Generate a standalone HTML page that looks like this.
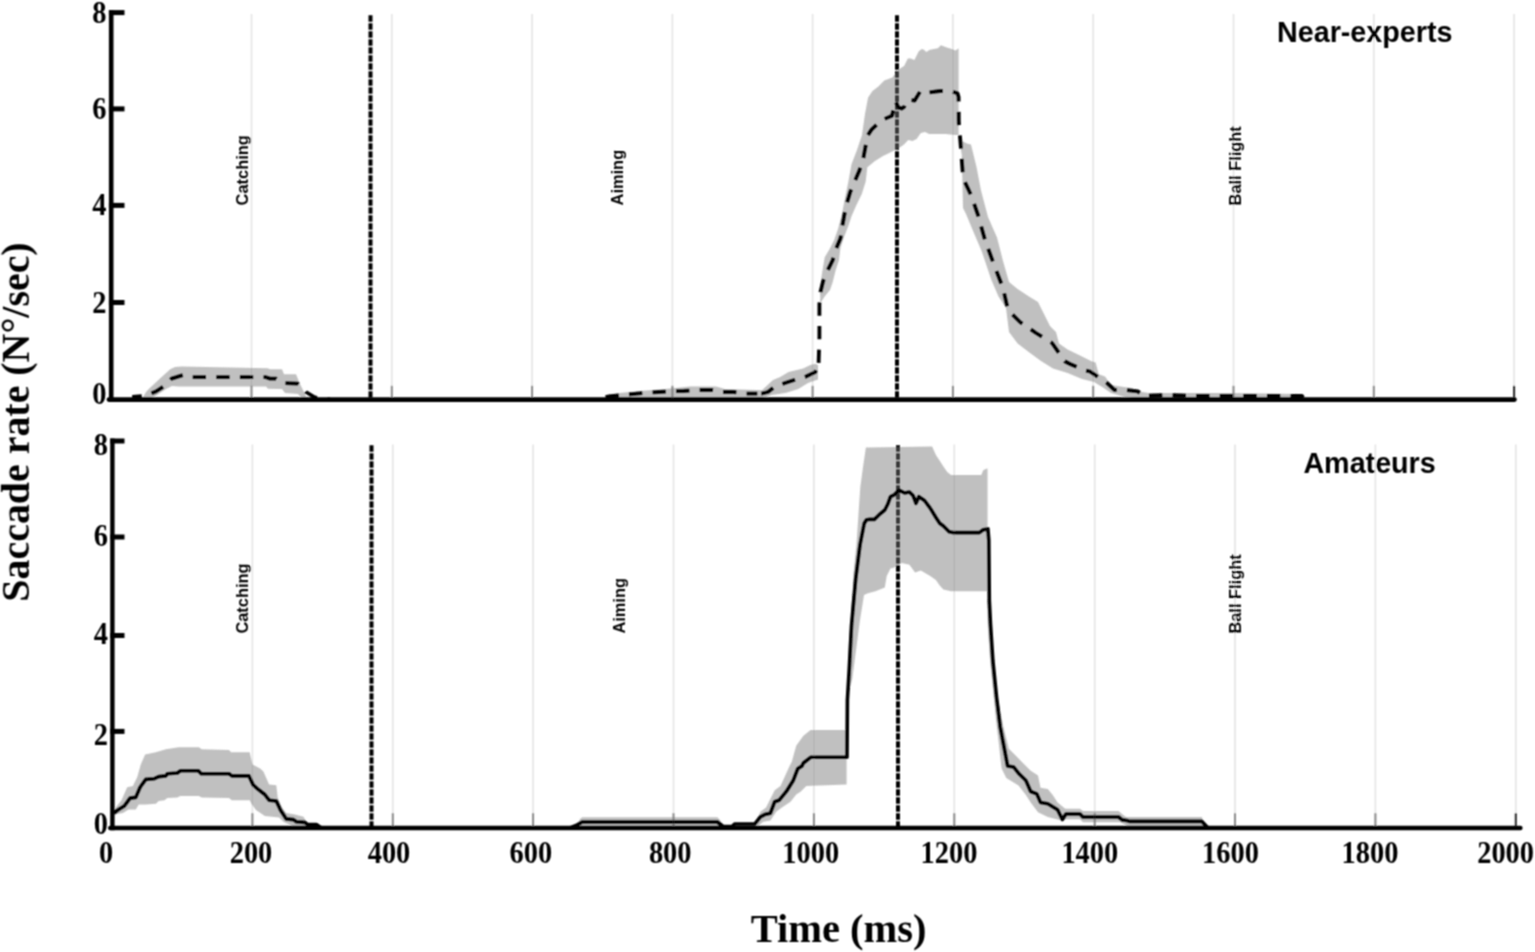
<!DOCTYPE html>
<html><head><meta charset="utf-8"><title>Saccade rate</title><style>
html,body{margin:0;padding:0;background:#fff;}
body{width:1535px;height:952px;overflow:hidden;}
svg{display:block;}
.tk{font-family:"Liberation Serif","Times New Roman",serif;font-weight:bold;font-size:29px;fill:#000;}
.ax{font-family:"Liberation Serif","Times New Roman",serif;font-weight:bold;font-size:39.5px;fill:#000;}
.ph{font-family:"Liberation Sans",Arial,sans-serif;font-weight:bold;font-size:16.4px;fill:#000;}
.ti{font-family:"Liberation Sans",Arial,sans-serif;font-weight:bold;font-size:28.7px;fill:#000;}
</style></head><body>
<svg width="1535" height="952" viewBox="0 0 1535 952">
<defs><filter id="soft" filterUnits="userSpaceOnUse" x="0" y="0" width="1535" height="952"><feConvolveMatrix order="3" kernelMatrix="1 2 1 2 4 2 1 2 1" divisor="16" edgeMode="duplicate"/></filter></defs>
<rect width="1535" height="952" fill="#fff"/>
<g filter="url(#soft)">
<line x1="370.5" y1="14.5" x2="370.5" y2="397.6" stroke="#000" stroke-width="4" stroke-dasharray="6.5 1.5" stroke-dashoffset="-0.8"/>
<line x1="897.0" y1="14.5" x2="897.0" y2="397.6" stroke="#000" stroke-width="4" stroke-dasharray="6.5 1.5" stroke-dashoffset="-0.8"/>
<line x1="251.5" y1="14.0" x2="251.5" y2="397.6" stroke="#e4e4e4" stroke-width="1.6"/>
<line x1="251.5" y1="385.8" x2="251.5" y2="397.6" stroke="#8a8a8a" stroke-width="2"/>
<line x1="391.8" y1="14.0" x2="391.8" y2="397.6" stroke="#e4e4e4" stroke-width="1.6"/>
<line x1="391.8" y1="385.8" x2="391.8" y2="397.6" stroke="#8a8a8a" stroke-width="2"/>
<line x1="532.1" y1="14.0" x2="532.1" y2="397.6" stroke="#e4e4e4" stroke-width="1.6"/>
<line x1="532.1" y1="385.8" x2="532.1" y2="397.6" stroke="#8a8a8a" stroke-width="2"/>
<line x1="672.4" y1="14.0" x2="672.4" y2="397.6" stroke="#e4e4e4" stroke-width="1.6"/>
<line x1="672.4" y1="385.8" x2="672.4" y2="397.6" stroke="#8a8a8a" stroke-width="2"/>
<line x1="812.6" y1="14.0" x2="812.6" y2="397.6" stroke="#e4e4e4" stroke-width="1.6"/>
<line x1="812.6" y1="385.8" x2="812.6" y2="397.6" stroke="#8a8a8a" stroke-width="2"/>
<line x1="952.9" y1="14.0" x2="952.9" y2="397.6" stroke="#e4e4e4" stroke-width="1.6"/>
<line x1="952.9" y1="385.8" x2="952.9" y2="397.6" stroke="#8a8a8a" stroke-width="2"/>
<line x1="1093.2" y1="14.0" x2="1093.2" y2="397.6" stroke="#e4e4e4" stroke-width="1.6"/>
<line x1="1093.2" y1="385.8" x2="1093.2" y2="397.6" stroke="#8a8a8a" stroke-width="2"/>
<line x1="1233.5" y1="14.0" x2="1233.5" y2="397.6" stroke="#e4e4e4" stroke-width="1.6"/>
<line x1="1233.5" y1="385.8" x2="1233.5" y2="397.6" stroke="#8a8a8a" stroke-width="2"/>
<line x1="1373.8" y1="14.0" x2="1373.8" y2="397.6" stroke="#e4e4e4" stroke-width="1.6"/>
<line x1="1373.8" y1="385.8" x2="1373.8" y2="397.6" stroke="#8a8a8a" stroke-width="2"/>
<line x1="1514.1" y1="14.0" x2="1514.1" y2="397.6" stroke="#e4e4e4" stroke-width="1.6"/>
<line x1="1514.1" y1="385.8" x2="1514.1" y2="397.6" stroke="#262626" stroke-width="2"/>
<line x1="371.5" y1="444.5" x2="371.5" y2="826.0" stroke="#000" stroke-width="4" stroke-dasharray="6.5 1.5" stroke-dashoffset="-0.8"/>
<line x1="898.0" y1="444.5" x2="898.0" y2="826.0" stroke="#000" stroke-width="4" stroke-dasharray="6.5 1.5" stroke-dashoffset="-0.8"/>
<line x1="252.4" y1="444.5" x2="252.4" y2="826.0" stroke="#e4e4e4" stroke-width="1.6"/>
<line x1="252.4" y1="813.2" x2="252.4" y2="826.0" stroke="#8a8a8a" stroke-width="2"/>
<line x1="392.8" y1="444.5" x2="392.8" y2="826.0" stroke="#e4e4e4" stroke-width="1.6"/>
<line x1="392.8" y1="813.2" x2="392.8" y2="826.0" stroke="#8a8a8a" stroke-width="2"/>
<line x1="533.1" y1="444.5" x2="533.1" y2="826.0" stroke="#e4e4e4" stroke-width="1.6"/>
<line x1="533.1" y1="813.2" x2="533.1" y2="826.0" stroke="#8a8a8a" stroke-width="2"/>
<line x1="673.5" y1="444.5" x2="673.5" y2="826.0" stroke="#e4e4e4" stroke-width="1.6"/>
<line x1="673.5" y1="813.2" x2="673.5" y2="826.0" stroke="#8a8a8a" stroke-width="2"/>
<line x1="813.9" y1="444.5" x2="813.9" y2="826.0" stroke="#e4e4e4" stroke-width="1.6"/>
<line x1="813.9" y1="813.2" x2="813.9" y2="826.0" stroke="#8a8a8a" stroke-width="2"/>
<line x1="954.3" y1="444.5" x2="954.3" y2="826.0" stroke="#e4e4e4" stroke-width="1.6"/>
<line x1="954.3" y1="813.2" x2="954.3" y2="826.0" stroke="#8a8a8a" stroke-width="2"/>
<line x1="1094.7" y1="444.5" x2="1094.7" y2="826.0" stroke="#e4e4e4" stroke-width="1.6"/>
<line x1="1094.7" y1="813.2" x2="1094.7" y2="826.0" stroke="#8a8a8a" stroke-width="2"/>
<line x1="1235.0" y1="444.5" x2="1235.0" y2="826.0" stroke="#e4e4e4" stroke-width="1.6"/>
<line x1="1235.0" y1="813.2" x2="1235.0" y2="826.0" stroke="#8a8a8a" stroke-width="2"/>
<line x1="1375.4" y1="444.5" x2="1375.4" y2="826.0" stroke="#e4e4e4" stroke-width="1.6"/>
<line x1="1375.4" y1="813.2" x2="1375.4" y2="826.0" stroke="#8a8a8a" stroke-width="2"/>
<line x1="1515.8" y1="444.5" x2="1515.8" y2="826.0" stroke="#e4e4e4" stroke-width="1.6"/>
<line x1="1515.8" y1="813.2" x2="1515.8" y2="826.0" stroke="#262626" stroke-width="2"/>
<polygon points="142.0,399.0 146.0,392.0 149.0,388.7 160.0,378.5 170.2,369.3 175.0,367.0 181.7,366.5 267.7,368.2 270.0,369.3 282.0,369.3 284.0,374.3 296.0,374.3 300.0,384.0 306.4,397.0 308.0,399.0 303.0,399.0 298.0,394.0 292.0,393.5 285.0,393.0 282.0,389.0 268.0,388.7 266.0,386.5 185.0,386.5 178.0,386.5 172.0,386.0 166.0,389.0 160.0,393.0 154.0,397.0 150.0,399.0" fill="#777777" fill-opacity="0.463"/>
<polygon points="604.0,399.0 610.0,394.0 640.0,391.0 665.0,389.0 690.0,386.6 716.0,386.6 725.0,389.0 757.0,390.0 762.0,390.2 773.0,380.0 780.2,377.0 788.6,372.1 795.9,370.3 803.1,368.5 810.4,364.9 815.2,363.7 818.0,364.9 818.0,379.4 808.0,383.0 798.3,389.0 786.2,392.7 779.0,393.9 771.7,395.0 765.0,397.5 760.0,398.5 700.0,398.0 640.0,398.5 606.0,399.0" fill="#777777" fill-opacity="0.463"/>
<polygon points="819.8,301.0 820.3,299.0 820.0,291.9 821.6,276.1 824.7,257.2 829.5,249.3 834.2,239.9 838.1,228.8 842.1,213.1 845.2,197.3 848.4,181.5 851.5,164.2 857.0,150.0 862.0,135.0 865.0,114.0 868.1,97.5 872.5,90.9 878.4,86.5 884.3,80.6 892.4,77.6 893.8,75.4 899.7,68.8 904.1,65.9 907.8,58.5 910.7,58.5 914.4,60.0 918.8,51.2 921.8,49.0 924.0,49.7 926.2,51.9 929.9,49.7 937.9,48.2 940.9,45.3 946.8,47.5 951.9,49.0 955.6,50.4 958.6,48.2 958.6,139.0 962.0,141.0 967.0,143.4 971.0,144.5 976.5,167.0 981.0,190.6 988.0,217.0 997.0,237.6 1003.0,261.0 1009.0,282.0 1017.6,289.0 1029.0,296.5 1038.0,302.0 1044.0,314.0 1050.0,326.0 1056.0,332.0 1059.0,343.5 1067.6,349.4 1079.0,355.0 1091.0,361.0 1095.6,362.5 1098.8,374.2 1105.0,376.6 1111.0,385.0 1133.0,388.3 1139.4,391.4 1148.8,393.0 1227.0,393.0 1283.0,393.7 1300.0,394.0 1305.0,399.0 1140.0,399.0 1125.0,397.0 1111.0,393.0 1103.0,387.6 1094.0,382.0 1082.0,379.0 1067.6,373.0 1053.0,368.5 1041.0,361.0 1029.4,352.4 1017.6,343.5 1009.0,332.0 1006.0,308.0 998.5,296.5 991.0,279.0 982.0,252.0 973.5,232.0 966.0,214.0 963.0,208.0 961.8,155.0 958.6,135.0 954.4,135.0 946.0,134.0 937.6,134.0 929.2,134.0 925.0,132.0 920.8,133.0 916.6,139.0 912.4,141.0 908.2,140.0 904.0,144.5 899.8,147.6 895.6,149.7 889.3,152.9 883.0,156.0 874.6,161.3 868.3,166.5 867.3,167.3 865.7,181.5 861.8,194.1 856.3,205.2 851.5,216.2 848.4,225.7 843.6,238.3 840.5,247.7 838.9,260.4 835.8,269.8 832.6,282.4 830.0,290.0 825.0,296.0 821.0,302.0" fill="#777777" fill-opacity="0.463"/>
<polygon points="114.3,812.0 115.7,807.4 121.5,800.2 127.2,787.3 132.9,785.9 137.2,777.3 140.8,764.4 145.1,754.4 155.9,752.2 165.9,749.3 178.8,747.2 198.9,747.2 201.7,749.3 229.0,750.1 231.1,752.2 249.7,752.2 252.6,764.4 260.5,768.7 263.4,771.6 269.1,784.5 276.3,785.2 277.7,797.4 282.0,807.4 286.3,813.1 294.9,814.6 303.5,816.7 306.4,821.7 310.0,827.0 295.0,827.0 289.2,824.6 283.4,821.7 279.1,817.4 264.8,816.0 260.5,813.1 256.2,810.3 251.9,804.5 249.7,800.2 231.8,800.2 229.0,798.1 201.7,797.4 198.9,795.9 180.2,795.9 177.4,797.4 167.3,798.1 164.5,800.2 158.7,801.0 155.9,803.8 145.8,804.5 138.7,804.5 135.8,809.5 128.6,809.5 122.9,813.1 114.3,814.6" fill="#777777" fill-opacity="0.463"/>
<polygon points="576.0,827.0 580.0,819.0 582.2,817.3 717.4,817.3 720.0,820.0 724.0,827.0" fill="#777777" fill-opacity="0.463"/>
<polygon points="755.0,824.0 760.4,811.8 766.1,807.5 774.7,790.3 780.5,786.0 789.0,767.3 791.9,761.6 796.2,745.8 803.4,735.8 810.6,730.1 846.6,730.1 846.6,784.5 806.3,786.0 800.5,791.7 796.2,794.6 790.5,801.7 781.9,807.5 776.2,811.8 770.4,820.4 763.3,821.8 758.0,826.0" fill="#777777" fill-opacity="0.463"/>
<polygon points="848.0,690.0 849.0,640.0 850.8,620.0 853.6,572.3 856.5,544.0 858.4,515.6 860.3,487.3 863.1,466.5 865.9,447.6 932.1,446.6 935.9,455.1 939.7,460.8 943.4,466.5 947.2,472.1 951.0,475.0 981.3,475.0 983.2,470.3 986.9,468.4 987.5,468.4 987.5,591.3 951.0,591.3 943.4,589.4 939.7,585.6 935.9,580.0 930.2,576.1 920.8,570.5 915.1,572.4 909.4,564.8 901.8,562.9 894.3,567.6 890.5,568.6 886.7,576.1 884.8,587.5 875.4,591.3 867.8,593.2 864.0,595.0 859.7,622.0 852.3,678.8 849.0,692.0" fill="#777777" fill-opacity="0.463"/>
<polygon points="988.0,600.0 990.5,610.0 992.0,640.0 994.0,670.0 998.0,700.0 1003.0,725.0 1008.8,748.8 1016.1,756.1 1023.4,763.4 1030.7,770.7 1038.0,775.6 1040.5,787.8 1047.8,789.0 1052.7,795.1 1057.6,802.4 1064.9,808.5 1066.0,808.8 1080.0,808.8 1083.0,811.1 1118.6,811.1 1122.0,814.0 1126.0,817.0 1201.9,817.0 1204.0,825.0 1205.0,827.0 1129.0,827.0 1126.0,825.2 1120.0,822.2 1083.0,822.2 1080.0,819.3 1066.0,819.3 1062.4,820.7 1057.6,819.5 1047.8,817.0 1038.0,812.2 1030.7,802.4 1025.9,795.1 1018.5,785.4 1006.3,778.0 1001.5,768.3 999.0,745.0 996.0,720.0 993.0,690.0 990.0,660.0 988.0,630.0 987.0,600.0" fill="#777777" fill-opacity="0.463"/>
<path d="M132.2 397.0 L145.0 396.0 L155.9 391.5 L164.5 385.8 L171.6 378.6 L183.1 375.0 L190.0 377.2 L266.0 377.2 L270.0 378.6 L276.0 378.6 L282.0 383.0 L297.8 383.7 L303.0 388.0 L306.0 392.0 L315.0 397.5 L330.0 399.5" fill="none" stroke="#000" stroke-width="3.8" stroke-dasharray="13.3 10.3" stroke-dashoffset="3.75" stroke-linejoin="round"/>
<path d="M598.0 399.5 L607.2 396.7 L636.9 393.6 L658.8 392.0 L671.3 391.3 L683.8 391.0 L699.4 390.0 L712.0 390.0 L722.9 392.0 L733.8 392.0 L746.0 393.6 L757.3 393.6" fill="none" stroke="#000" stroke-width="3.8" stroke-dasharray="13.3 10.3" stroke-dashoffset="15.61" stroke-linejoin="round"/>
<path d="M757.3 393.6 L762.0 393.5 L768.0 392.0 L775.0 386.6 L785.0 383.0 L796.0 379.4 L805.0 377.0 L815.2 372.1 L818.6 362.9" fill="none" stroke="#000" stroke-width="3.8" stroke-dasharray="13.3 10.3" stroke-dashoffset="19.56" stroke-linejoin="round"/>
<path d="M818.6 362.9 L819.4 337.6 L819.4 304.0 L820.5 292.0 L823.2 280.9 L827.9 269.8 L832.6 260.4 L835.8 249.3 L840.5 238.3 L842.1 227.3 L844.4 214.6 L846.8 203.6 L850.0 192.6 L854.7 181.5 L859.4 170.5 L863.4 157.9 L866.0 143.8 L867.0 136.5 L871.5 129.6 L881.0 120.5 L892.0 115.7 L895.5 101.5 L898.4 107.3 L901.5 108.6 L904.2 106.8 L906.8 100.5 L910.0 100.0 L914.7 100.5 L920.4 91.0 L929.0 92.5 L940.0 91.0 L950.0 91.0 L957.5 93.2 L958.6 97.0 L958.8 123.0 L960.3 140.0 L962.6 171.0 L964.0 180.0 L971.0 195.0 L978.0 215.0 L985.0 240.0 L993.0 262.0 L1003.0 288.0 L1008.0 310.0 L1020.0 322.0 L1036.0 333.0 L1052.0 343.0 L1064.7 361.2 L1070.0 364.0 L1084.7 370.3 L1090.0 371.5 L1101.9 379.7 L1107.0 383.0 L1114.4 389.8 L1125.3 389.8 L1137.8 391.4 L1144.0 396.0 L1164.0 395.0 L1200.0 396.0 L1302.0 396.0 L1305.0 399.5" fill="none" stroke="#000" stroke-width="3.8" stroke-dasharray="13.3 10.3" stroke-dashoffset="0.00" stroke-linejoin="round"/>
<path d="M114.0 813.0 L118.6 809.5 L124.3 806.0 L130.1 798.1 L135.8 797.4 L140.1 787.3 L145.8 779.4 L154.4 778.7 L158.7 776.6 L165.9 775.9 L167.3 773.7 L177.4 773.0 L180.2 770.8 L198.4 770.8 L201.2 773.7 L229.0 773.7 L231.8 775.9 L249.0 775.9 L253.3 785.2 L257.6 788.8 L264.8 794.5 L269.1 800.2 L276.3 801.0 L280.6 810.3 L286.3 818.9 L293.5 819.6 L296.3 821.7 L304.9 822.4 L307.8 824.6 L316.4 824.6 L320.7 827.5" fill="none" stroke="#000" stroke-width="3.6" stroke-linejoin="round"/>
<path d="M570.0 828.0 L576.0 825.5 L582.2 822.0 L717.4 822.0 L723.1 826.5 L732.0 826.5 L734.6 824.0 L754.7 824.0 L760.4 816.8 L764.7 814.6 L770.4 813.2 L774.7 801.7 L779.0 800.3 L786.2 791.7 L793.4 780.2 L797.7 768.8 L802.0 765.9 L803.4 763.0 L810.6 757.3 L847.0 757.3 L847.4 700.0 L849.3 668.0 L851.5 625.6 L855.7 578.8 L860.0 545.0 L864.2 523.5 L866.5 519.8 L868.8 519.4 L874.4 519.4 L879.2 514.7 L884.8 510.0 L887.7 504.3 L890.5 496.7 L894.3 494.8 L899.0 490.1 L904.7 493.0 L909.4 492.0 L913.2 495.8 L916.0 503.3 L918.9 496.7 L924.5 500.5 L930.2 508.1 L935.9 517.5 L939.7 523.2 L943.4 526.0 L949.1 531.7 L952.9 532.6 L979.4 532.6 L983.2 529.8 L987.9 528.9 L988.8 540.0 L989.3 600.0 L990.5 624.4 L992.9 661.0 L996.6 697.6 L1000.2 726.8 L1003.9 746.3 L1007.6 765.9 L1013.7 767.0 L1018.5 773.2 L1025.9 780.5 L1030.7 791.5 L1036.8 793.9 L1040.5 802.4 L1047.8 803.7 L1057.6 809.8 L1062.4 819.5 L1065.9 814.0 L1080.0 814.0 L1082.9 817.0 L1118.6 817.0 L1122.1 819.9 L1126.8 820.5 L1129.2 821.4 L1201.9 821.4 L1205.4 825.2 L1208.0 828.0" fill="none" stroke="#000" stroke-width="3.6" stroke-linejoin="round"/>
<line x1="111.2" y1="10.2" x2="111.2" y2="401.9" stroke="#000" stroke-width="4.6"/>
<line x1="108.9" y1="399.6" x2="1514.5" y2="399.6" stroke="#000" stroke-width="4.6" stroke-linecap="round"/>
<line x1="108.9" y1="12.6" x2="124.5" y2="12.6" stroke="#000" stroke-width="5"/>
<line x1="108.9" y1="108.9" x2="124.5" y2="108.9" stroke="#000" stroke-width="5"/>
<line x1="108.9" y1="205.4" x2="124.5" y2="205.4" stroke="#000" stroke-width="5"/>
<line x1="108.9" y1="302.5" x2="124.5" y2="302.5" stroke="#000" stroke-width="5"/>
<text transform="translate(106.5 22.7) scale(0.980 1.100)" text-anchor="end" class="tk">8</text>
<text transform="translate(106.5 118.8) scale(0.980 1.100)" text-anchor="end" class="tk">6</text>
<text transform="translate(106.5 214.9) scale(0.980 1.100)" text-anchor="end" class="tk">4</text>
<text transform="translate(106.5 313.4) scale(0.980 1.100)" text-anchor="end" class="tk">2</text>
<text transform="translate(106.5 403.6) scale(0.980 1.100)" text-anchor="end" class="tk">0</text>
<text transform="translate(247.6 205.4) rotate(-90)" class="ph">Catching</text>
<text transform="translate(623.2 205.4) rotate(-90)" class="ph">Aiming</text>
<text transform="translate(1240.8 205.4) rotate(-90)" class="ph">Ball Flight</text>
<text transform="translate(1277.0 41.7) scale(1.000 1.060)" class="ti">Near-experts</text>
<line x1="112.4" y1="438.6" x2="112.4" y2="830.2" stroke="#000" stroke-width="4.4"/>
<line x1="110.2" y1="828.0" x2="1520.4" y2="828.0" stroke="#000" stroke-width="4.4" stroke-linecap="round"/>
<line x1="110.2" y1="441.0" x2="124.5" y2="441.0" stroke="#000" stroke-width="5"/>
<line x1="110.2" y1="537.0" x2="124.5" y2="537.0" stroke="#000" stroke-width="5"/>
<line x1="110.2" y1="635.5" x2="124.5" y2="635.5" stroke="#000" stroke-width="5"/>
<line x1="110.2" y1="731.4" x2="124.5" y2="731.4" stroke="#000" stroke-width="5"/>
<text transform="translate(108.0 455.0) scale(0.980 1.100)" text-anchor="end" class="tk">8</text>
<text transform="translate(108.0 546.0) scale(0.980 1.100)" text-anchor="end" class="tk">6</text>
<text transform="translate(108.0 644.3) scale(0.980 1.100)" text-anchor="end" class="tk">4</text>
<text transform="translate(108.0 744.9) scale(0.980 1.100)" text-anchor="end" class="tk">2</text>
<text transform="translate(108.0 834.4) scale(0.980 1.100)" text-anchor="end" class="tk">0</text>
<text transform="translate(248.0 633.6) rotate(-90)" class="ph">Catching</text>
<text transform="translate(624.6 633.6) rotate(-90)" class="ph">Aiming</text>
<text transform="translate(1241.4 633.6) rotate(-90)" class="ph">Ball Flight</text>
<text transform="translate(1303.4 472.6) scale(1.000 1.060)" class="ti">Amateurs</text>
<text transform="translate(106.2 863.2) scale(0.980 1.100)" text-anchor="middle" class="tk">0</text>
<text transform="translate(251.0 863.2) scale(0.980 1.100)" text-anchor="middle" class="tk">200</text>
<text transform="translate(389.0 863.2) scale(0.980 1.100)" text-anchor="middle" class="tk">400</text>
<text transform="translate(530.8 863.2) scale(0.980 1.100)" text-anchor="middle" class="tk">600</text>
<text transform="translate(670.2 863.2) scale(0.980 1.100)" text-anchor="middle" class="tk">800</text>
<text transform="translate(810.7 863.2) scale(0.980 1.100)" text-anchor="middle" class="tk">1000</text>
<text transform="translate(949.0 863.2) scale(0.980 1.100)" text-anchor="middle" class="tk">1200</text>
<text transform="translate(1089.8 863.2) scale(0.980 1.100)" text-anchor="middle" class="tk">1400</text>
<text transform="translate(1230.5 863.2) scale(0.980 1.100)" text-anchor="middle" class="tk">1600</text>
<text transform="translate(1370.0 863.2) scale(0.980 1.100)" text-anchor="middle" class="tk">1800</text>
<text transform="translate(1505.6 863.2) scale(0.980 1.100)" text-anchor="middle" class="tk">2000</text>
<text x="838.6" y="941.6" text-anchor="middle" class="ax" style="font-size:40.5px">Time (ms)</text>
<text transform="translate(28.9 422.0) rotate(-90)" text-anchor="middle" class="ax" style="font-size:39.9px">Saccade rate (N°/sec)</text>
</g>
</svg>
</body></html>
